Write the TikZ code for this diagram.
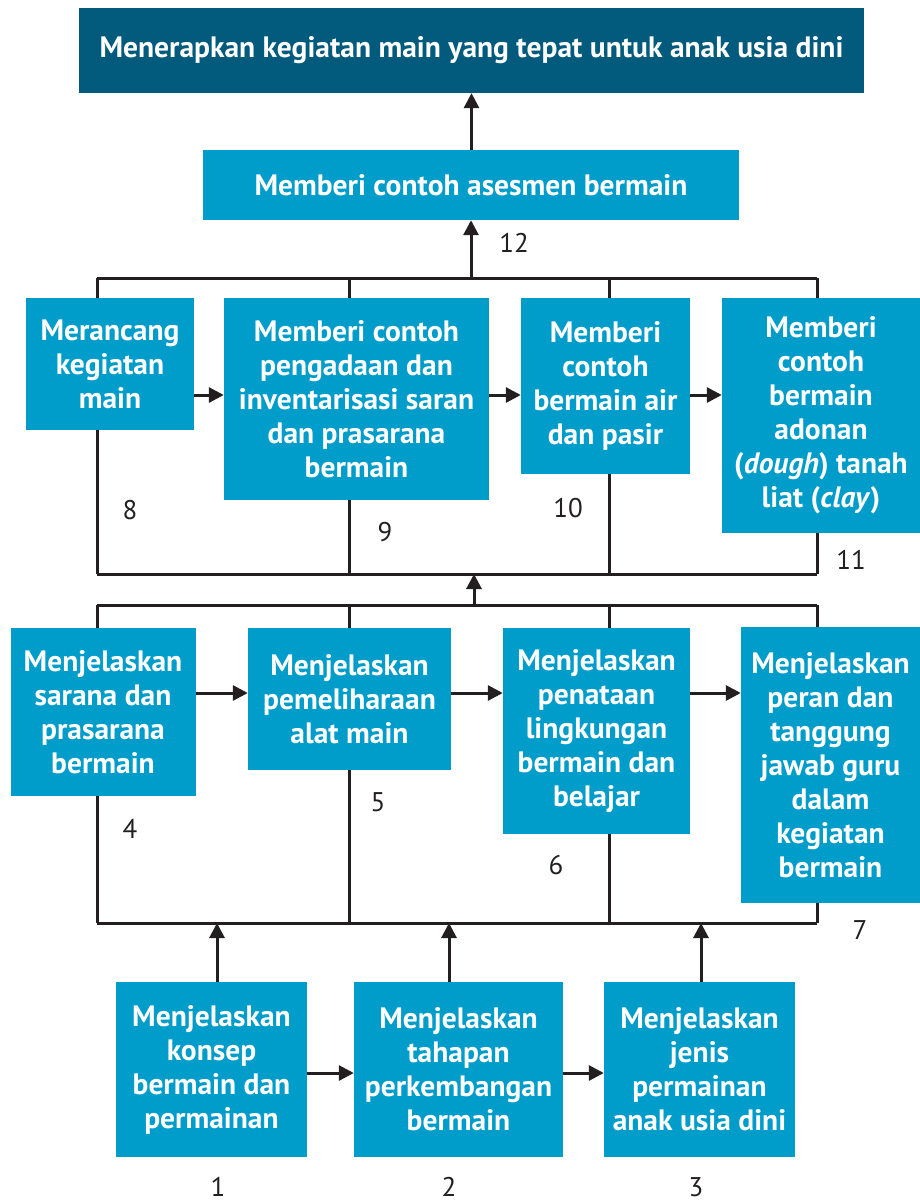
\documentclass[tikz,border=0pt]{standalone}
\usepackage{fontspec}
\setmainfont{PT Sans}
\usetikzlibrary{arrows.meta}
\definecolor{darkteal}{RGB}{2,90,124}
\definecolor{lightblue}{RGB}{0,156,202}
\definecolor{ink}{RGB}{35,31,32}
\begin{document}
\begin{tikzpicture}[x=1pt,y=-1pt,
  box/.style={fill=lightblue,text=white,font=\fontsize{29.5}{34}\selectfont\bfseries,align=center,inner sep=0pt,anchor=center},
  topbox/.style={box,fill=darkteal},
  num/.style={font=\fontsize{27}{30}\selectfont,text=ink,inner sep=0pt,anchor=center},
  line/.style={draw=ink,line width=3pt},
  arr/.style={line,-{Triangle[length=15pt,width=15pt]}}]
\useasboundingbox (0,0) rectangle (920,1203);
% nodes
\node[topbox,minimum width=785pt,minimum height=85pt] (top) at (471.5,50.5) {Menerapkan kegiatan main yang tepat untuk anak usia dini};
\node[box,minimum width=536pt,minimum height=70pt] (b12) at (471,185) {Memberi contoh asesmen bermain};
\node[box,minimum width=168pt,minimum height=132pt] (b8) at (110,364) {Merancang\\kegiatan\\main};
\node[box,minimum width=265pt,minimum height=202pt] (b9) at (356.5,399) {Memberi contoh\\pengadaan dan\\inventarisasi saran\\dan prasarana\\bermain};
\node[box,minimum width=169pt,minimum height=176pt] (b10) at (605.5,386) {Memberi\\contoh\\bermain air\\dan pasir};
\node[box,minimum width=198pt,minimum height=235pt] (b11) at (821,415.5) {Memberi\\contoh\\bermain\\adonan\\(\textit{dough}) tanah\\liat (\textit{clay})};
\node[box,minimum width=185pt,minimum height=168pt] (b4) at (103,712) {Menjelaskan\\sarana dan\\prasarana\\bermain};
\node[box,minimum width=203pt,minimum height=142pt] (b5) at (349.5,699) {Menjelaskan\\pemeliharaan\\alat main};
\node[box,minimum width=187pt,minimum height=206pt] (b6) at (596.5,731) {Menjelaskan\\penataan\\lingkungan\\bermain dan\\belajar};
\node[box,minimum width=179pt,minimum height=276pt] (b7) at (830.5,765) {Menjelaskan\\peran dan\\tanggung\\jawab guru\\dalam\\kegiatan\\bermain};
\node[box,minimum width=191pt,minimum height=175pt] (b1) at (211.5,1069.5) {Menjelaskan\\konsep\\bermain dan\\permainan};
\node[box,minimum width=209pt,minimum height=175pt] (b2) at (458.5,1069.5) {Menjelaskan\\tahapan\\perkembangan\\bermain};
\node[box,minimum width=191pt,minimum height=175pt] (b3) at (699.5,1069.5) {Menjelaskan\\jenis\\permainan\\anak usia dini};
% numbers
\node[num] (n12) at (514,243) {12};
\node[num] (n8) at (130,510) {8};
\node[num] (n9) at (385,532) {9};
\node[num] (n10) at (568,508) {10};
\node[num] (n11) at (851,560) {11};
\node[num] (n4) at (130,829) {4};
\node[num] (n5) at (378,802) {5};
\node[num] (n6) at (556,865) {6};
\node[num] (n7) at (860,930) {7};
\node[num] (n1) at (218,1187) {1};
\node[num] (n2) at (449,1187) {2};
\node[num] (n3) at (696,1187) {3};
% bus coordinates
\coordinate (u1) at (97,278);  \coordinate (u2) at (349,278);
\coordinate (u3) at (609,278); \coordinate (u4) at (817,278);
\coordinate (uc) at (471,278);
\coordinate (l1) at (97,574);  \coordinate (l2) at (349,574);
\coordinate (l3) at (609,574); \coordinate (l4) at (817,574);
\coordinate (lc) at (474,574);
\coordinate (m1) at (97,605);  \coordinate (m2) at (349,605);
\coordinate (m3) at (609,605); \coordinate (m4) at (817,605);
\coordinate (mc) at (474,607);
\coordinate (d1) at (97,923);  \coordinate (d2) at (349,923);
\coordinate (d3) at (609,923); \coordinate (d4) at (817,923);
\coordinate (a1) at (217,923); \coordinate (a2) at (449,923); \coordinate (a3) at (701,923);
\coordinate (ya) at (0,395); \coordinate (yb) at (0,693); \coordinate (yc) at (0,1073);
% vertical top arrows
\draw[arr] (b12.north -| top.south) -- (top.south);
\draw[arr] (uc) -- (uc |- b12.south);
% top bus
\draw[line] (u1) -- (u4);
\draw[line] (u1) -- (u1 |- b8.north);
\draw[line] (u2) -- (u2 |- b9.north);
\draw[line] (u3) -- (u3 |- b10.north);
\draw[line] (u4) -- (u4 |- b11.north);
\draw[line] (u1 |- b8.south) -- (l1);
\draw[line] (u2 |- b9.south) -- (l2);
\draw[line] (u3 |- b10.south) -- (l3);
\draw[line] (u4 |- b11.south) -- (l4);
\draw[line] (l1) -- (l4);
\draw[arr] (mc) -- (lc);
% middle bus
\draw[line] (m1) -- (m4);
\draw[line] (m1) -- (m1 |- b4.north);
\draw[line] (m2) -- (m2 |- b5.north);
\draw[line] (m3) -- (m3 |- b6.north);
\draw[line] (m4) -- (m4 |- b7.north);
\draw[line] (m1 |- b4.south) -- (d1);
\draw[line] (m2 |- b5.south) -- (d2);
\draw[line] (m3 |- b6.south) -- (d3);
\draw[line] (m4 |- b7.south) -- (d4);
\draw[line] (d1) -- (d4);
% bottom arrows up
\draw[arr] (a1 |- b1.north) -- (a1);
\draw[arr] (a2 |- b2.north) -- (a2);
\draw[arr] (a3 |- b3.north) -- (a3);
% horizontal arrows
\draw[arr] (b8.east |- ya) -- (b9.west |- ya);
\draw[arr] (b9.east |- ya) -- (b10.west |- ya);
\draw[arr] (b10.east |- ya) -- (b11.west |- ya);
\draw[arr] (b4.east |- yb) -- (b5.west |- yb);
\draw[arr] (b5.east |- yb) -- (b6.west |- yb);
\draw[arr] (b6.east |- yb) -- (b7.west |- yb);
\draw[arr] (b1.east |- yc) -- (b2.west |- yc);
\draw[arr] (b2.east |- yc) -- (b3.west |- yc);
\end{tikzpicture}
\end{document}
